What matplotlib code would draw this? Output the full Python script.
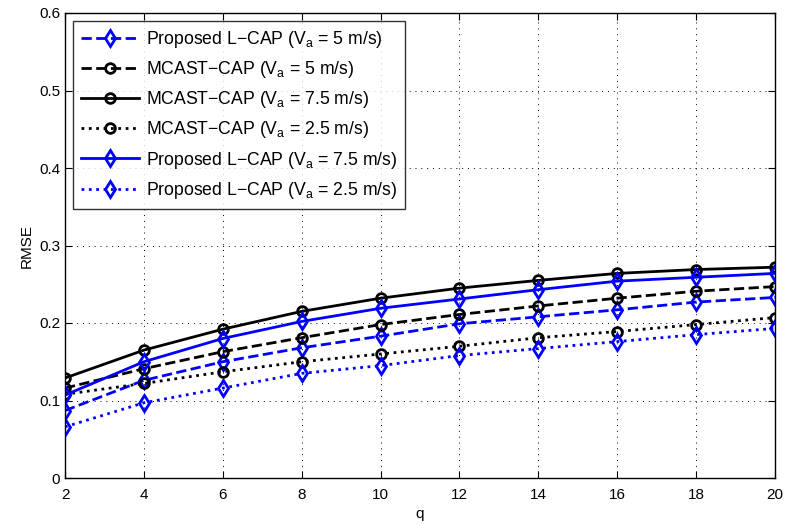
"""RMSE versus q for L-CAP and MCAST-CAP at several speeds."""

import matplotlib
matplotlib.use('Agg')
import matplotlib.pyplot as plt

plt.rcParams['font.family'] = ['Liberation Sans', 'DejaVu Sans']
plt.rcParams['mathtext.fontset'] = 'custom'
plt.rcParams['mathtext.rm'] = 'Liberation Sans'
plt.rcParams['mathtext.it'] = 'Liberation Sans'

q = [2, 4, 6, 8, 10, 12, 14, 16, 18, 20]

lcap_5 = [0.087, 0.126, 0.150, 0.168, 0.183, 0.199, 0.208, 0.217, 0.227, 0.233]
mcast_5 = [0.116, 0.141, 0.163, 0.181, 0.198, 0.211, 0.222, 0.232, 0.241, 0.247]
mcast_75 = [0.129, 0.165, 0.192, 0.215, 0.232, 0.245, 0.255, 0.264, 0.269, 0.272]
mcast_25 = [0.108, 0.122, 0.137, 0.150, 0.160, 0.170, 0.181, 0.189, 0.198, 0.207]
lcap_75 = [0.107, 0.150, 0.180, 0.202, 0.219, 0.231, 0.243, 0.254, 0.259, 0.264]
lcap_25 = [0.066, 0.097, 0.116, 0.135, 0.145, 0.158, 0.167, 0.176, 0.185, 0.193]

series = [
    (lcap_5, 'b', '--', 'd', r'Proposed L$-$CAP (V$_\mathrm{a}$ = 5 m/s)'),
    (mcast_5, 'k', '--', 'o', r'MCAST$-$CAP (V$_\mathrm{a}$ = 5 m/s)'),
    (mcast_75, 'k', '-', 'o', r'MCAST$-$CAP (V$_\mathrm{a}$ = 7.5 m/s)'),
    (mcast_25, 'k', ':', 'o', r'MCAST$-$CAP (V$_\mathrm{a}$ = 2.5 m/s)'),
    (lcap_75, 'b', '-', 'd', r'Proposed L$-$CAP (V$_\mathrm{a}$ = 7.5 m/s)'),
    (lcap_25, 'b', ':', 'd', r'Proposed L$-$CAP (V$_\mathrm{a}$ = 2.5 m/s)'),
]

fig = plt.figure(figsize=(7.87, 5.25), dpi=100)
ax = fig.add_axes([65 / 787, 47 / 525, 710 / 787, 465 / 525])

for vals, color, ls, mk, label in series:
    ms = 8 if mk == 'd' else 7
    ax.plot(q, vals, color=color, linestyle=ls, linewidth=2,
            marker=mk, markersize=ms, markerfacecolor='none',
            markeredgewidth=2, label=label)

ax.set_xlim(2, 20)
ax.set_ylim(0, 0.6)
ax.set_xticks(q)
ax.set_yticks([0, 0.1, 0.2, 0.3, 0.4, 0.5, 0.6])
ax.set_yticklabels(['0', '0.1', '0.2', '0.3', '0.4', '0.5', '0.6'])
ax.tick_params(direction='in', top=True, right=True, labelsize=11, length=5)
ax.tick_params(axis='x', pad=7)
ax.grid(True, color='k', linewidth=0.7, dashes=(1, 5))
for sp in ax.spines.values():
    sp.set_linewidth(1)
ax.set_xlabel('q', fontsize=11, labelpad=4)
ax.set_ylabel('RMSE', fontsize=11)

leg = ax.legend(loc='upper left', fontsize=12.7, frameon=True, fancybox=False,
                edgecolor='k', handlelength=3.3, handletextpad=0.4,
                borderpad=0.45, labelspacing=0.52, borderaxespad=0,
                bbox_to_anchor=(0.011, 0.983))
leg.get_frame().set_linewidth(1)

fig.savefig('out.png', dpi=100)
plt.close(fig)
